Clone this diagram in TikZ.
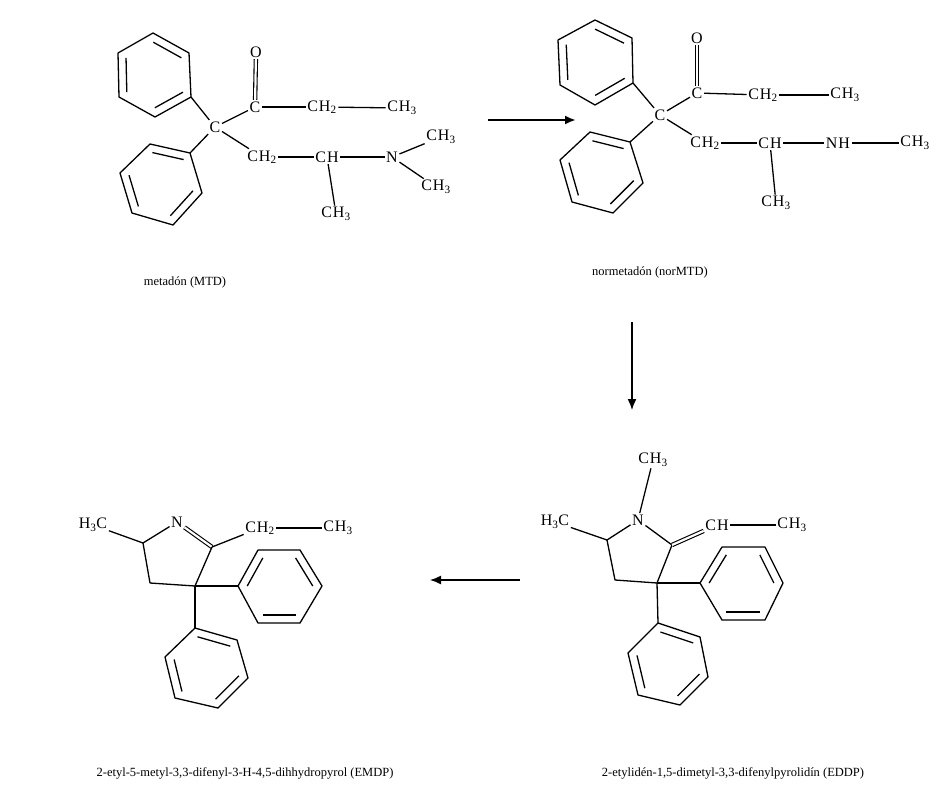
\documentclass[tikz,border=0pt]{standalone}
\usepackage{fontspec}
\setmainfont{Liberation Serif}
\usetikzlibrary{calc,arrows.meta}
\newcommand{\benz}[7]{% name prefix, six vertices
  \path #2 coordinate (#1a) #3 coordinate (#1b) #4 coordinate (#1c) #5 coordinate (#1d) #6 coordinate (#1e) #7 coordinate (#1f);
  \coordinate (#1o) at ($(#1a)!0.5!(#1d)$);
  \draw[bond] (#1a)--(#1b)--(#1c)--(#1d)--(#1e)--(#1f)--cycle;
  \draw[bond] ($(#1a)!0.22!(#1o)$)--($(#1b)!0.22!(#1o)$);
  \draw[bond] ($(#1c)!0.22!(#1o)$)--($(#1d)!0.22!(#1o)$);
  \draw[bond] ($(#1e)!0.22!(#1o)$)--($(#1f)!0.22!(#1o)$);}
\begin{document}
\begin{tikzpicture}[x=1pt,y=-1pt,
  bond/.style={line width=1.3pt,line join=round},
  dbond/.style={double,double distance=2.2pt,line width=1.1pt},
  atom/.style={inner sep=1.5pt,font=\fontsize{16}{18}\selectfont\addfontfeature{LetterSpace=6}},
  caption/.style={font=\fontsize{12.5}{14}\selectfont,inner sep=0pt},
  react/.style={line width=1.4pt,-{Latex[length=11pt,width=9pt]}}]
\useasboundingbox (0,0) rectangle (950,800);
% ---------- MTD ----------
\node[atom] (c1) at (215,127) {C};
\node[atom] (co1) at (255,107) {C};
\node[atom] (o1) at (256,52) {O};
\node[atom] (a1) at (322,107) {CH\textsubscript{2}};
\node[atom] (b1) at (402,108) {CH\textsubscript{3}};
\node[atom] (d1) at (262,157) {CH\textsubscript{2}};
\node[atom] (e1) at (327,157) {CH};
\node[atom] (n1) at (392,157) {N};
\node[atom] (m1) at (441,137) {CH\textsubscript{3}};
\node[atom] (m2) at (436,187) {CH\textsubscript{3}};
\node[atom] (f1) at (336,214) {CH\textsubscript{3}};
\benz{p1}{(191,97)}{(155,117)}{(119,97)}{(118,53)}{(153,33)}{(189,53)}
\benz{p2}{(190,153)}{(150,144)}{(120,173)}{(132,213)}{(173,225)}{(202,193)}
\draw[bond] (c1)--(p1a); \draw[bond] (c1)--(p2a);
\draw[bond] (c1)--(co1); \draw[dbond] (co1)--(o1);
\draw[bond] (co1)--(a1); \draw[bond] (a1)--(b1);
\draw[bond] (c1)--(d1); \draw[bond] (d1)--(e1); \draw[bond] (e1)--(n1);
\draw[bond] (n1)--(m1); \draw[bond] (n1)--(m2); \draw[bond] (e1)--(f1);
\node[caption] (l1) at (185,282) {metadón (MTD)};
% ---------- norMTD ----------
\node[atom] (c2) at (660,115) {C};
\node[atom] (co2) at (697,93) {C};
\node[atom] (o2) at (697,38) {O};
\node[atom] (a2) at (763,95) {CH\textsubscript{2}};
\node[atom] (b2) at (845,95) {CH\textsubscript{3}};
\node[atom] (d2) at (705,143) {CH\textsubscript{2}};
\node[atom] (e2) at (770,143) {CH};
\node[atom] (n2) at (838,143) {NH};
\node[atom] (m3) at (915,143) {CH\textsubscript{3}};
\node[atom] (f2) at (776,203) {CH\textsubscript{3}};
\benz{q1}{(633,83)}{(595,105)}{(560,85)}{(558,40)}{(595,20)}{(632,38)}
\benz{q2}{(630,142)}{(590,132)}{(560,160)}{(572,202)}{(613,213)}{(643,183)}
\draw[bond] (c2)--(q1a); \draw[bond] (c2)--(q2a);
\draw[bond] (c2)--(co2); \draw[dbond] (co2)--(o2);
\draw[bond] (co2)--(a2); \draw[bond] (a2)--(b2);
\draw[bond] (c2)--(d2); \draw[bond] (d2)--(e2); \draw[bond] (e2)--(n2);
\draw[bond] (n2)--(m3); \draw[bond] (e2)--(f2);
\node[caption] (l2) at (650,272) {normetadón (norMTD)};
% ---------- EDDP ----------
\node[atom] (t3) at (653,460) {CH\textsubscript{3}};
\node[atom] (n3) at (638,520) {N};
\node[atom] (h3) at (555,522) {H\textsubscript{3}C};
\coordinate (r5) at (607,540);
\coordinate (r4) at (615,580);
\coordinate (r3) at (657,583);
\coordinate (r2) at (672,545);
\node[atom] (ch3) at (717,525) {CH};
\node[atom] (x3) at (792,525) {CH\textsubscript{3}};
\benz{s1}{(700,583)}{(722,547)}{(765,547)}{(783,583)}{(765,620)}{(722,620)}
\benz{s2}{(658,623)}{(700,637)}{(708,677)}{(680,705)}{(638,695)}{(628,653)}
\draw[bond] (t3)--(n3); \draw[bond] (h3)--(r5); \draw[bond] (n3)--(r5);
\draw[bond] (r5)--(r4)--(r3)--(r2); \draw[bond] (n3)--(r2);
\draw[dbond] (r2)--(ch3); \draw[bond] (ch3)--(x3);
\draw[bond] (r3)--(s1a); \draw[bond] (r3)--(s2a);
\node[caption] (l3) at (733,773) {2-etylidén-1,5-dimetyl-3,3-difenylpyrolidín (EDDP)};
% ---------- EMDP ----------
\node[atom] (h4) at (93,525) {H\textsubscript{3}C};
\node[atom] (n4) at (177,522) {N};
\coordinate (u5) at (143,543);
\coordinate (u4) at (150,583);
\coordinate (u3) at (195,586);
\coordinate (u2) at (212,547);
\node[atom] (a4) at (260,528) {CH\textsubscript{2}};
\node[atom] (b4) at (338,528) {CH\textsubscript{3}};
\benz{v1}{(238,586)}{(258,550)}{(300,550)}{(322,586)}{(300,623)}{(258,623)}
\benz{v2}{(195,628)}{(237,640)}{(248,678)}{(218,708)}{(175,698)}{(165,657)}
\draw[bond] (h4)--(u5); \draw[bond] (u5)--(n4); \draw[dbond] (n4)--(u2);
\draw[bond] (u5)--(u4)--(u3)--(u2); \draw[bond] (u2)--(a4); \draw[bond] (a4)--(b4);
\draw[bond] (u3)--(v1a); \draw[bond] (u3)--(v2a);
\node[caption] (l4) at (245,773) {2-etyl-5-metyl-3,3-difenyl-3-H-4,5-dihhydropyrol (EMDP)};
% ---------- arrows ----------
\coordinate (ar1) at (488,120); \coordinate (ar2) at (576,120);
\draw[react,line width=2.2pt] (ar1)--(ar2);
\coordinate (ar3) at (632,322); \coordinate (ar4) at (632,410);
\draw[react] (ar3)--(ar4);
\coordinate (ar5) at (520,580); \coordinate (ar6) at (430,580);
\draw[react] (ar5)--(ar6);
\end{tikzpicture}
\end{document}
